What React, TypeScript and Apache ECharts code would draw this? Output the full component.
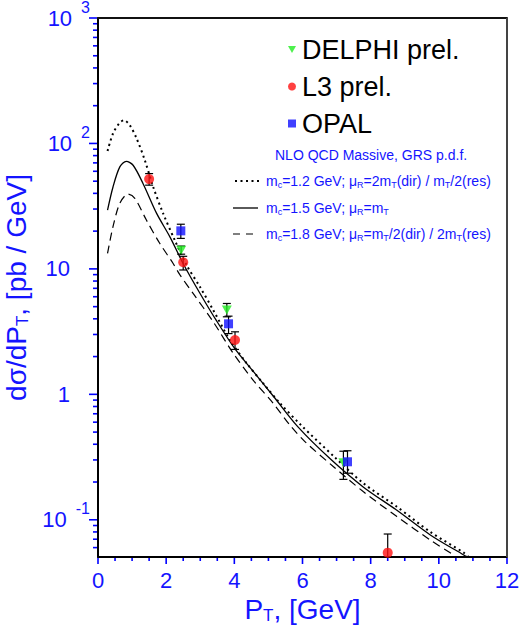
import React, { useEffect, useRef } from 'react';
import * as echarts from 'echarts';

const FONT = '"Liberation Sans", Arial, Helvetica, sans-serif';
const BLUE = '#1414ff';

// axis ticks
const xMin = 0;
const xMax = 12;
const xInterval = 2;
const xMajorTicks = [0, 2, 4, 6, 8, 10, 12];
const xMinorTicks = [0.5, 1, 1.5, 2.5, 3, 3.5, 4.5, 5, 5.5, 6.5, 7, 7.5, 8.5, 9, 9.5, 10.5, 11, 11.5];
const yMin = 0.0505;
const yMax = 1000;
const yMajorTicks = [0.1, 1, 10, 100, 1000];
const yMinorTicks = [
  0.06, 0.07, 0.08, 0.09,
  0.2, 0.3, 0.4, 0.5, 0.6, 0.7, 0.8, 0.9,
  2, 3, 4, 5, 6, 7, 8, 9,
  20, 30, 40, 50, 60, 70, 80, 90,
  200, 300, 400, 500, 600, 700, 800, 900,
];
const yTickLabels: Record<string, string> = {
  '1000': '{b|10}{p|3}',
  '100': '{b|10}{p|2}',
  '10': '{c|10}',
  '1': '{c|1}',
  '0.1': '{b|10}{p|-1}',
};

// NLO QCD curves  [PT, dsigma/dPT]
const curveMc12: [number, number][] = [
  [0.28, 87], [0.44, 120], [0.62, 144], [0.76, 153], [0.93, 140], [1.13, 110],
  [1.37, 74], [1.62, 45], [1.91, 27.7], [2.25, 17], [2.6, 10.7], [2.99, 7.2],
  [3.38, 4.7], [3.87, 2.71], [4.36, 1.77], [4.85, 1.22], [5.34, 0.85], [5.98, 0.56],
  [6.91, 0.322], [7.79, 0.195], [8.77, 0.127], [9.75, 0.08], [10.73, 0.0547], [10.86, 0.0508],
];
const curveMc15: [number, number][] = [
  [0.28, 29.4], [0.44, 45], [0.64, 65], [0.83, 72], [1.03, 67], [1.32, 48],
  [1.72, 27.7], [2.11, 18], [2.5, 11], [2.99, 6.4], [3.48, 3.85], [4.02, 2.3],
  [4.55, 1.53], [5.14, 0.97], [5.88, 0.545], [6.82, 0.305], [7.79, 0.182], [8.77, 0.119],
  [9.75, 0.0757], [10.73, 0.0524], [10.82, 0.0508],
];
const curveMc18: [number, number][] = [
  [0.28, 13.3], [0.44, 21.7], [0.64, 33.3], [0.88, 39.5], [1.08, 36.5], [1.42, 24.5],
  [1.81, 16], [2.2, 11.1], [2.4, 9.0], [2.79, 6.38], [3.38, 3.79], [3.97, 2.12],
  [4.55, 1.3], [5.14, 0.848], [5.63, 0.569], [6.07, 0.42], [6.91, 0.265], [7.79, 0.167],
  [8.77, 0.106], [9.75, 0.069], [10.43, 0.0524], [10.48, 0.0508],
];

// measurements
const l3X = [1.5, 2.5, 4.02, 8.5];
const l3Y = [52, 11.3, 2.71, 0.0547];
const l3Lo = [46.5, 9.8, 2.28, 0.035];
const l3Hi = [57.5, 12.6, 3.15, 0.077];

const delphiX = [2.44, 3.78, 7.2];
const delphiY = [14.1, 4.7, 0.285];
const delphiLo = [13.1, 4.15, 0.21];
const delphiHi = [15.2, 5.3, 0.352];

const opalX = [2.43, 3.83, 7.32];
const opalY = [20.1, 3.65, 0.29];
const opalLo = [17.5, 3.05, 0.235];
const opalHi = [22.7, 4.2, 0.355];

const pts = (xs: number[], ys: number[]) => xs.map((x, i) => [x, ys[i]]);
const errs = (xs: number[], lo: number[], hi: number[]) => xs.map((x, i) => [x, lo[i], hi[i]]);

// error bars; a bar end below the frame stops at the frame, with no cap
const errorBarSeries = (name: string, data: number[][]) => ({
  name,
  type: 'custom',
  clip: false,
  z: 3,
  encode: { x: 0, y: [1, 2] },
  data,
  renderItem: (params: any, api: any) => {
    const x = api.value(0);
    const loVal = api.value(1);
    const cut = loVal < yMin;
    const lo = api.coord([x, cut ? yMin : loVal]);
    const hi = api.coord([x, api.value(2)]);
    const w = 4;
    const st = { stroke: '#000', lineWidth: 1.2 };
    const children: any[] = [
      { type: 'line', shape: { x1: lo[0], y1: lo[1], x2: hi[0], y2: hi[1] }, style: st },
      { type: 'line', shape: { x1: hi[0] - w, y1: hi[1], x2: hi[0] + w, y2: hi[1] }, style: st },
    ];
    if (!cut) {
      children.push({ type: 'line', shape: { x1: lo[0] - w, y1: lo[1], x2: lo[0] + w, y2: lo[1] }, style: st });
    }
    return { type: 'group', children };
  },
});

// tick marks drawn outside the frame, placed by the axes' own scales
const tickSeries = (name: string, data: number[][], vertical: boolean) => ({
  name,
  type: 'custom',
  clip: false,
  silent: true,
  z: 10,
  encode: { x: 0, y: 1 },
  data,
  renderItem: (params: any, api: any) => {
    const p = api.coord([api.value(0), api.value(1)]);
    const len = api.value(2);
    const shape = vertical
      ? { x1: p[0], y1: p[1] + 1, x2: p[0], y2: p[1] + 1 + len }
      : { x1: p[0] - 1 - len, y1: p[1], x2: p[0] - 1, y2: p[1] };
    return { type: 'line', shape, style: { stroke: '#0000ff', lineWidth: 1.6 } };
  },
});

const subRich = (size: number, sub: number, drop: number, color: string) => ({
  a: { fontSize: size, fontFamily: FONT, color },
  s: { fontSize: sub, fontFamily: FONT, color, padding: [drop, 0, 0, 0] },
});

const legendLines = [
  { y: 181, dash: [2, 3.5], width: 2, x1: 235, x2: 259 },
  { y: 208, dash: null, width: 1.3, x1: 233, x2: 258 },
  { y: 234, dash: [7, 6], width: 1.2, x1: 233, x2: 256 },
];
const legendTexts = [
  '{a|m}{s|c}{a|=1.2 GeV; \u03bc}{s|R}{a|=2m}{s|T}{a|(dir) / m}{s|T}{a|/2(res)}',
  '{a|m}{s|c}{a|=1.5 GeV; \u03bc}{s|R}{a|=m}{s|T}',
  '{a|m}{s|c}{a|=1.8 GeV; \u03bc}{s|R}{a|=m}{s|T}{a|/2(dir) / 2m}{s|T}{a|(res)}',
];

export default function App() {
  const ref = useRef<HTMLDivElement>(null);
  useEffect(() => {
    if (!ref.current) return;
    const chart = echarts.init(ref.current, undefined, { renderer: 'svg' });
    const graphic: any[] = [
      {
        type: 'text', x: 275, y: 155,
        style: { text: 'NLO QCD Massive, GRS p.d.f.', fontSize: 14, fontFamily: FONT, fill: BLUE, verticalAlign: 'middle' },
      },
    ];
    legendLines.forEach((l, i) => {
      graphic.push({
        type: 'line',
        shape: { x1: l.x1, y1: l.y, x2: l.x2, y2: l.y },
        style: { stroke: '#000', lineWidth: l.width, lineDash: l.dash || undefined },
      });
      graphic.push({
        type: 'text', x: 266, y: l.y,
        style: {
          text: legendTexts[i], verticalAlign: 'middle', fill: BLUE,
          rich: {
            a: { fontSize: 14, fontFamily: FONT, fill: BLUE },
            s: { fontSize: 9, fontFamily: FONT, fill: BLUE, padding: [8, 0, 0, 0] },
          },
        },
      });
    });

    const yTickData = [
      ...yMajorTicks.map((v) => [xMin, v, 8]),
      ...yMinorTicks.map((v) => [xMin, v, 4]),
    ];
    const xTickData = [
      ...xMajorTicks.map((v) => [v, yMin, 6]),
      ...xMinorTicks.map((v) => [v, yMin, 3]),
    ];
    // right edge of the frame, drawn through the scales
    const rightEdge = [[xMax, yMin], [xMax, yMax]];

    chart.setOption({
      animation: false,
      textStyle: { fontFamily: FONT },
      grid: {
        left: 98, right: 16, top: 18, bottom: 70,
        outerBoundsMode: 'none', containLabel: false,
      },
      legend: {
        orient: 'vertical', left: 283, top: 31, itemWidth: 8, itemHeight: 8, itemGap: 10,
        selectedMode: false,
        textStyle: { fontSize: 27, color: '#000', fontFamily: FONT, padding: [0, 0, 0, 1] },
        data: [
          { name: 'DELPHI prel.', icon: 'path://M0,0L10,0L5,9Z' },
          { name: 'L3 prel.', icon: 'circle' },
          { name: 'OPAL', icon: 'rect' },
        ],
      },
      graphic,
      xAxis: [
        {
          type: 'value', min: xMin, max: xMax, interval: xInterval, position: 'bottom',
          name: '{a|P}{s|T}{a|, [GeV]}', nameLocation: 'middle', nameGap: 38,
          nameTextStyle: { rich: subRich(28, 17, 12, BLUE) },
          axisLine: { show: true, onZero: false, lineStyle: { color: '#000', width: 2 } },
          axisTick: { show: false },
          axisLabel: { fontSize: 22, color: BLUE, margin: 12, fontFamily: FONT },
          splitLine: { show: false },
        },
        {
          type: 'value', min: xMin, max: xMax, position: 'top',
          axisLine: { show: true, onZero: false, lineStyle: { color: '#111', width: 2 } },
          axisTick: { show: false }, axisLabel: { show: false }, splitLine: { show: false },
        },
      ],
      yAxis: {
        type: 'log', logBase: 10, min: yMin, max: yMax, position: 'left',
        name: '{a|d\u03c3/dP}{s|T}{a|, [pb / GeV]}', nameLocation: 'middle', nameGap: 48, nameRotate: 90,
        nameTextStyle: { rich: subRich(28, 17, 12, BLUE) },
        axisLine: { show: true, onZero: false, lineStyle: { color: '#000', width: 2 } },
        axisTick: { show: false },
        axisLabel: {
          customValues: yMajorTicks, margin: 8, color: BLUE,
          formatter: (v: number) => yTickLabels[String(v)] || '',
          rich: {
            b: { fontSize: 22, color: BLUE, fontFamily: FONT },
            p: { fontSize: 16, color: BLUE, fontFamily: FONT, padding: [0, 0, 22, 9] },
            c: { fontSize: 22, color: BLUE, fontFamily: FONT, padding: [0, 20, 0, 0] },
          },
        },
        splitLine: { show: false },
      },
      series: [
        {
          name: 'frame right', type: 'line', data: rightEdge, symbol: 'none', clip: false, silent: true, z: 1,
          lineStyle: { color: '#444', width: 2 },
        },
        {
          name: 'mc=1.2 GeV', type: 'line', data: curveMc12, smooth: 0.3, symbol: 'none', z: 2, clip: false,
          lineStyle: { color: '#000', width: 2, type: [2, 3.5] },
        },
        {
          name: 'mc=1.5 GeV', type: 'line', data: curveMc15, smooth: 0.3, symbol: 'none', z: 2, clip: false,
          lineStyle: { color: '#000', width: 1.3, type: 'solid' },
        },
        {
          name: 'mc=1.8 GeV', type: 'line', data: curveMc18, smooth: 0.3, symbol: 'none', z: 2, clip: false,
          lineStyle: { color: '#000', width: 1.2, type: [8, 5] },
        },
        errorBarSeries('DELPHI err', errs(delphiX, delphiLo, delphiHi)),
        errorBarSeries('L3 err', errs(l3X, l3Lo, l3Hi)),
        errorBarSeries('OPAL err', errs(opalX, opalLo, opalHi)),
        {
          name: 'DELPHI prel.', type: 'scatter', data: pts(delphiX, delphiY), z: 5, clip: false,
          symbol: 'path://M0,0L10,0L5,9Z', symbolSize: [10, 9], itemStyle: { color: '#22ee22' },
        },
        {
          name: 'L3 prel.', type: 'scatter', data: pts(l3X, l3Y), z: 5, clip: false,
          symbol: 'circle', symbolSize: 10, itemStyle: { color: '#ff1010' },
        },
        {
          name: 'OPAL', type: 'scatter', data: pts(opalX, opalY), z: 5, clip: false,
          symbol: 'rect', symbolSize: 9, itemStyle: { color: '#1010ff' },
        },
        tickSeries('y ticks', yTickData, false),
        tickSeries('x ticks', xTickData, true),
      ],
    });
    return () => chart.dispose();
  }, []);
  return (
    <div
      ref={ref}
      style={{ position: 'absolute', left: 0, top: 0, width: 523, height: 627, background: '#fff' }}
    />
  );
}
